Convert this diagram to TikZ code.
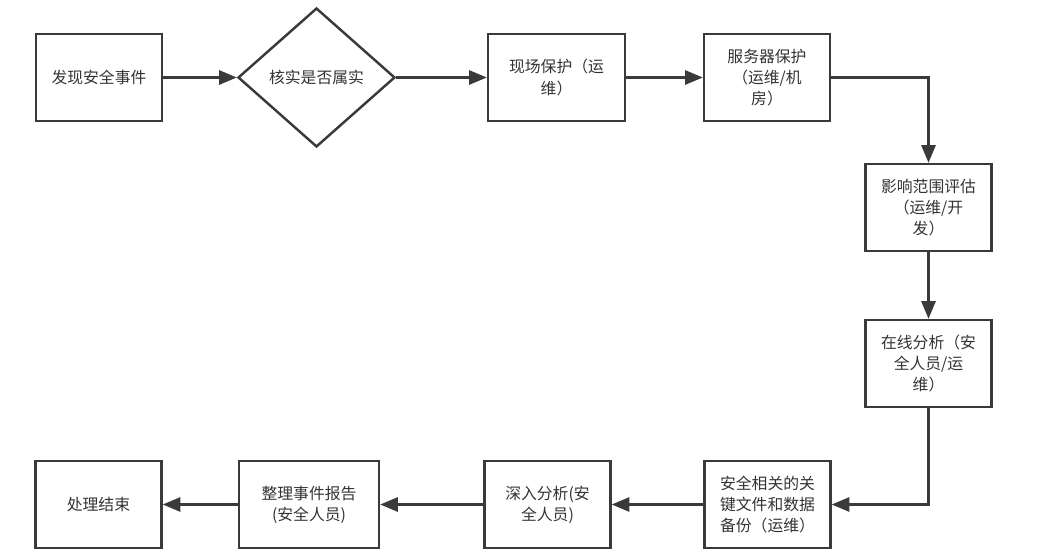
\documentclass[tikz,border=0pt]{standalone}
\usepackage{fontspec}
\setmainfont{Noto Sans CJK SC}
\usetikzlibrary{shapes.geometric,arrows.meta}
\definecolor{linegray}{HTML}{3A3A3A}
\definecolor{textgray}{HTML}{333333}
\begin{document}
\begin{tikzpicture}[x=0.02cm, y=-0.02cm,
        stepbox/.style={rectangle, draw=linegray, line width=1.4pt, minimum width=2.52cm, minimum height=1.74cm,
            inner sep=2pt, align=center, text=textgray, font=\fontsize{9}{12}\selectfont},
        checkbox/.style={diamond, draw=linegray, line width=1.4pt, minimum width=3.14cm, minimum height=2.78cm,
            inner sep=0pt, align=center, text=textgray, font=\fontsize{9}{12}\selectfont},
        flow/.style={draw=linegray, line width=1.4pt, -{Triangle[length=10pt, width=8pt]}}
    ]
    \useasboundingbox (0,0) rectangle (1063,557);

    % Riga superiore
    \node[stepbox] (find) at (99,77.5) {发现安全事件};
    \node[checkbox] (check) at (316.5,77.5) {核实是否属实};
    \node[stepbox, minimum width=2.74cm] (site) at (556.5,77.5) {现场保护（运\\维）};
    \node[stepbox] (server) at (767,77.5) {服务器保护\\（运维/机\\房）};

    % Colonna destra
    \node[stepbox] (scope) at (928.5,207.5) {影响范围评估\\（运维/开\\发）};
    \node[stepbox] (online) at (928.5,363.5) {在线分析（安\\全人员/运\\维）};

    % Riga inferiore
    \node[stepbox] (backup) at (767.5,504.5) {安全相关的关\\键文件和数据\\备份（运维）};
    \node[stepbox] (deep) at (547.5,504.5) {深入分析(安\\全人员)};
    \node[stepbox, minimum width=2.8cm] (report) at (309,504.5) {整理事件报告\\(安全人员)};
    \node[stepbox] (done) at (98.5,504.5) {处理结束};

    % Frecce
    \draw[flow] (find) -- (check);
    \draw[flow] (check) -- (site);
    \draw[flow] (site) -- (server);
    \draw[flow] (server.east) -| (scope.north);
    \draw[flow] (scope) -- (online);
    \draw[flow] (online.south) |- (backup.east);
    \draw[flow] (backup) -- (deep);
    \draw[flow] (deep) -- (report);
    \draw[flow] (report) -- (done);
\end{tikzpicture}
\end{document}
